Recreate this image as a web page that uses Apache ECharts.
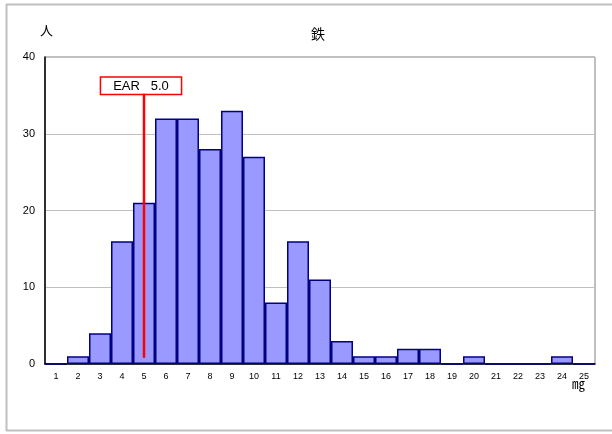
<!DOCTYPE html>
<html>
<head>
<meta charset="utf-8">
<script src="https://cdn.jsdelivr.net/npm/echarts@6/dist/echarts.min.js"></script>
<style>
html,body{margin:0;padding:0;background:#fff;}
#main{width:612px;height:434px;}
</style>
</head>
<body>
<div id="main"></div>
<script>
var categories = ['1','2','3','4','5','6','7','8','9','10','11','12','13','14','15','16','17','18','19','20','21','22','23','24','25'];
var counts = [0,1,4,16,21,32,32,28,33,27,8,16,11,3,1,1,2,2,0,1,0,0,0,1,0];
var earValue = '5';
var earLine = [0.8, 35.2];
var earLabel = 'EAR\u00a0\u00a0\u00a05.0';
var titleText = '鉄';
var yName = '人';
var xName = '㎎';

var chart = echarts.init(document.getElementById('main'), null, {renderer:'canvas'});
var font = 'Liberation Sans, Arial, sans-serif';
chart.setOption({
  animation: false,
  backgroundColor: '#fff',
  title: {
    text: titleText, left: 306, top: 22,
    textStyle: {fontFamily: 'Noto Sans CJK JP', fontSize: 14, fontWeight: 'normal', color: '#000'}
  },
  graphic: [
    {type:'line', shape:{x1:6,y1:4.5,x2:612,y2:4.5}, style:{stroke:'#c0c0c0', lineWidth:2}},
    {type:'line', shape:{x1:6.5,y1:4,x2:6.5,y2:431}, style:{stroke:'#c0c0c0', lineWidth:2}},
    {type:'line', shape:{x1:6,y1:430.5,x2:612,y2:430.5}, style:{stroke:'#c0c0c0', lineWidth:2}},
    {type:'text', left: 40, top: 24, style:{text: yName, font: '13px "Noto Sans CJK JP"', fill:'#000'}},
    {type:'text', left: 572, top: 377, style:{text: xName, font: '13px "Noto Sans CJK JP"', fill:'#000'}}
  ],
  grid: {left: 45, right: 17, top: 57, bottom: 70, show: true, borderColor: '#808080', borderWidth: 1},
  xAxis: {
    type: 'category', data: categories, boundaryGap: true,
    axisLine: {show: true, lineStyle: {color: '#000', width: 1.5}},
    axisTick: {show: false},
    axisLabel: {fontSize: 9, color: '#000', fontFamily: font, margin: 8, interval: 0}
  },
  yAxis: {
    type: 'value', min: 0, max: 40, interval: 10,
    axisLine: {show: true, lineStyle: {color: '#000', width: 1.5}},
    axisTick: {show: false},
    axisLabel: {fontSize: 11, color: '#000', fontFamily: font, margin: 10},
    splitLine: {show: true, lineStyle: {color: '#c0c0c0', width: 1}}
  },
  series: [
    {
      type: 'bar', data: counts, barWidth: '100%', barGap: '-100%',
      itemStyle: {color: '#9999ff', borderColor: '#000080', borderWidth: 1.5},
      z: 2
    },
    {
      type: 'line',
      data: [[earValue, earLine[0]], [earValue, earLine[1]]],
      symbol: 'none',
      lineStyle: {color: '#ff0000', width: 2.5},
      z: 5,
      markPoint: {
        symbol: 'rect', symbolSize: 0,
        data: [{coord: [earValue, earLine[1]]}],
        label: {
          show: true, position: 'top', distance: 0, offset: [-3, 0],
          formatter: earLabel,
          fontFamily: font, fontSize: 13, color: '#000',
          backgroundColor: '#fff', borderColor: '#ff0000', borderWidth: 1.5,
          padding: [2, 12, 1, 12]
        }
      }
    }
  ]
});
</script>
</body>
</html>
